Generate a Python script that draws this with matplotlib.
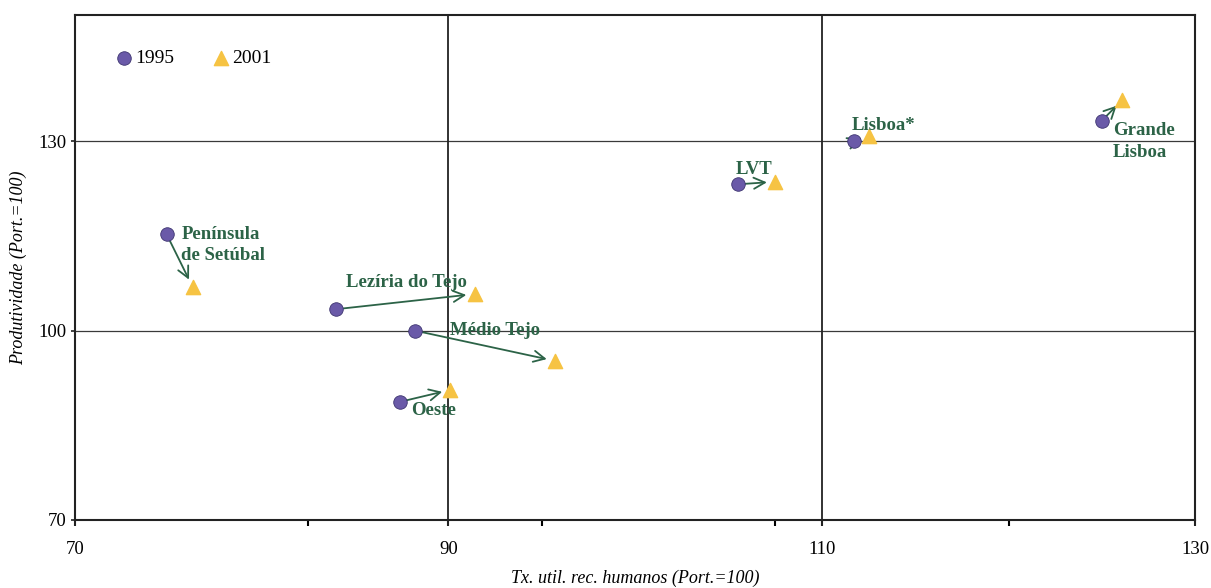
import matplotlib.pyplot as plt
from matplotlib.ticker import FixedLocator

# data
regions = ['Península\nde Setúbal', 'Lezíria do Tejo', 'Médio Tejo', 'Oeste',
           'LVT', 'Lisboa*', 'Grande\nLisboa']
x_1995 = [74.9, 84.0, 88.2, 87.4, 105.5, 111.7, 125.0]
y_1995 = [115.3, 103.4, 100.0, 88.7, 123.2, 130.0, 133.3]
x_2001 = [76.3, 91.4, 95.7, 90.1, 107.5, 112.5, 126.1]
y_2001 = [106.9, 105.8, 95.2, 90.6, 123.6, 130.9, 136.6]
# label anchor (left, centre)
label_x = [75.7, 84.5, 90.1, 88.0, 105.4, 111.6, 125.6]
label_y = [113.6, 107.7, 100.0, 87.4, 125.5, 132.6, 130.0]

x_ticks = [70, 90, 110, 130]
x_minor = [82.5, 95, 107.5, 120]
y_ticks = [70, 100, 130]

plt.rcParams['font.family'] = ['Liberation Serif', 'DejaVu Serif']
green = '#2c6347'

fig = plt.figure(figsize=(12.11, 5.88), dpi=100)
ax = fig.add_axes([0.062, 0.116, 0.925, 0.858])

# reference lines
for v in [100, 130]:
    ax.axhline(v, color='#3a3a3a', lw=0.9, zorder=1)
for v in [90, 110]:
    ax.axvline(v, color='#222222', lw=1.3, zorder=1)

for i in range(len(regions)):
    ax.annotate('', xy=(x_2001[i], y_2001[i]), xytext=(x_1995[i], y_1995[i]),
                arrowprops=dict(arrowstyle='->', color=green, lw=1.3,
                                shrinkA=5, shrinkB=6, mutation_scale=20),
                zorder=2)

ax.scatter(x_1995, y_1995, s=95, marker='o', color='#6a5aa8',
           edgecolor='#3d3470', linewidth=0.6, zorder=3, label='1995')
ax.scatter(x_2001, y_2001, s=105, marker='^', color='#f6c343',
           edgecolor='#f6c343', zorder=3, label='2001')

for i, name in enumerate(regions):
    ax.text(label_x[i], label_y[i], name, color=green, fontsize=13.5,
            fontweight='bold', ha='left', va='center', linespacing=1.35,
            zorder=4)

ax.set_xlim(70, 130)
ax.set_ylim(70, 150)
ax.set_xticks(x_ticks)
ax.xaxis.set_minor_locator(FixedLocator(x_minor))
ax.set_yticks(y_ticks)
ax.tick_params(axis='both', labelsize=13.5, direction='out', color='#222222')
ax.tick_params(axis='x', which='both', length=4, width=1.5, pad=11)
ax.tick_params(axis='y', length=3, width=1.2, pad=3)
for sp in ax.spines.values():
    sp.set_linewidth(1.5)
    sp.set_color('#222222')

ax.set_xlabel('Tx. util. rec. humanos (Port.=100)', fontsize=13,
              fontstyle='italic', labelpad=9)
ax.set_ylabel('Produtividade (Port.=100)', fontsize=13,
              fontstyle='italic', labelpad=8)

ax.legend(loc='upper left', bbox_to_anchor=(0.019, 0.967), ncol=2,
          frameon=False, fontsize=14, handletextpad=0.1,
          columnspacing=1.9, markerscale=1.0, handlelength=1.0)

fig.savefig('out.png', dpi=100)
